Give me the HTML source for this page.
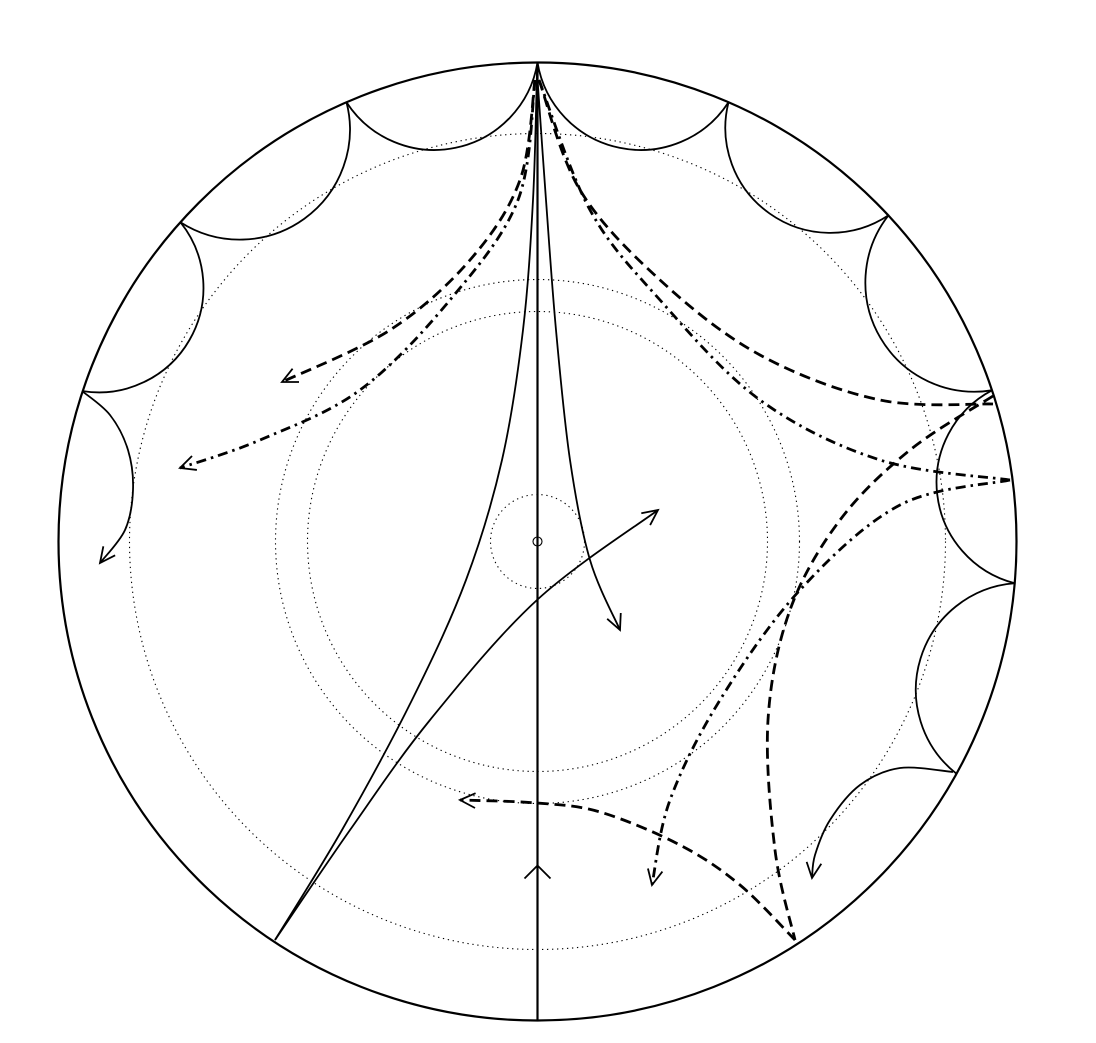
<!DOCTYPE html>
<html><head><meta charset="utf-8"><style>
html,body{margin:0;padding:0;background:#fff;}
svg{display:block;}
</style></head><body>
<svg id="fig" width="1096" height="1043" viewBox="0 0 1096 1043" xmlns="http://www.w3.org/2000/svg">
<g id="circles"></g>
<g id="scallops"></g>
<g id="curves"></g>
</svg>
<script>
const CX = 537.5, CY = 541.5, R = 479;
const dottedRadii = [47, 230, 262, 408];
const scallopAngles = [[-90,-113.5],[-113.5,-138.2],[-138.2,-161.7],[-90,-66.5],[-66.5,-42.9],[-42.9,-18.4],[-18.4,5.0],[5.0,29.0]];
const curveNames = ['solid-left-geodesic','solid-right-arrow','solid-cross-arrow','dashed-top-left','dashdot-top-left','dashed-top-right','dashdot-top-right','dashed-right-down','dashdot-right-down','dashed-bottom-left','left-open-arc','right-open-arc'];
const curveStyles = ['solid','solid','solid','dash','dashdot','dash','dashdot','dash','dashdot','dash','solid','solid'];
const curveArrows = [false,true,true,true,true,false,false,false,true,true,true,true];
const curvePoints = [
 [[537,72],[533,200],[523,330],[502,460],[466,580],[412,700],[342,830],[275,940]],
 [[537,72],[546,200],[556,330],[570,460],[590,560],[620,630]],
 [[275,940],[350,830],[430,720],[537,600],[658,510]],
 [[535,80],[520,180],[470,260],[390,330],[282,382]],
 [[535,80],[518,200],[450,300],[360,390],[260,440],[180,468]],
 [[539,80],[580,190],[660,280],[760,355],[880,400],[993,404]],
 [[539,80],[590,210],[660,300],[760,400],[880,460],[1010,480]],
 [[993,396],[910,450],[840,520],[790,610],[768,720],[775,850],[795,940]],
 [[1010,480],[900,505],[800,590],[720,700],[670,800],[652,885]],
 [[795,940],[740,885],[680,845],[600,812],[537,803],[460,800]],
 [[82,391],[110,415],[128,450],[133,490],[125,530],[100,563]],
 [[953,772],[900,768],[860,785],[830,820],[815,855],[812,878]]
];
const NS='http://www.w3.org/2000/svg';
function mk(tag, attrs, parent){const e=document.createElementNS(NS,tag);for(const k in attrs)e.setAttribute(k,attrs[k]);parent.appendChild(e);return e;}
const gC=document.getElementById('circles'), gS=document.getElementById('scallops'), gK=document.getElementById('curves');
const outer=mk('circle',{cx:CX,cy:CY,r:R,fill:'none',stroke:'#000','stroke-width':2.2},gC);


dottedRadii.forEach((r,i)=>{const c=mk('circle',{cx:CX,cy:CY,r:r,fill:'none',stroke:'#000','stroke-width':1.1,'stroke-dasharray':'1.3,3.7'},gC);

});
const cen=mk('circle',{cx:CX,cy:CY,r:4.5,fill:'none',stroke:'#000','stroke-width':1.1},gC);


const vl=mk('line',{x1:CX,y1:CY-R,x2:CX,y2:CY+R,stroke:'#000','stroke-width':2.2},gC);


const chev=mk('path',{d:`M${CX-13},${CY+337} L${CX},${CY+324} L${CX+13},${CY+337}`,fill:'none',stroke:'#000','stroke-width':1.8},gC);


scallopAngles.forEach((a,i)=>{
 const t1=a[0]*Math.PI/180,t2=a[1]*Math.PI/180;
 const p1=[CX+R*Math.cos(t1),CY+R*Math.sin(t1)],p2=[CX+R*Math.cos(t2),CY+R*Math.sin(t2)];
 const d=Math.abs(t2-t1)/2, rr=R*Math.tan(d)*1.05;
 const sweep = t2>t1 ? 0 : 1;
 const p=mk('path',{d:`M${p1[0]},${p1[1]} A${rr},${rr} 0 0 ${sweep} ${p2[0]},${p2[1]}`,fill:'none',stroke:'#000','stroke-width':1.8},gS);
 
 
});
function crPath(pts){let d=`M${pts[0][0]},${pts[0][1]}`;for(let i=0;i<pts.length-1;i++){const p0=pts[Math.max(0,i-1)],p1=pts[i],p2=pts[i+1],p3=pts[Math.min(pts.length-1,i+2)];
 const c1=[p1[0]+(p2[0]-p0[0])/6,p1[1]+(p2[1]-p0[1])/6],c2=[p2[0]-(p3[0]-p1[0])/6,p2[1]-(p3[1]-p1[1])/6];
 d+=` C${c1[0]},${c1[1]} ${c2[0]},${c2[1]} ${p2[0]},${p2[1]}`;}return d;}
const dashMap={solid:null,dash:'11,6',dashdot:'10,5,2.5,5'};
curvePoints.forEach((pts,i)=>{
 const st=curveStyles[i];
 const attrs={d:crPath(pts),fill:'none',stroke:'#000','stroke-width':st==='solid'?1.8:2.8};
 if(dashMap[st])attrs['stroke-dasharray']=dashMap[st];
 const p=mk('path',attrs,gK);
 
 
 if(curveArrows[i]){
  const e=pts[pts.length-1],b=pts[pts.length-2];
  const ang=Math.atan2(e[1]-b[1],e[0]-b[0]),L=17,s=0.45;
  const a1=[e[0]-L*Math.cos(ang-s),e[1]-L*Math.sin(ang-s)],a2=[e[0]-L*Math.cos(ang+s),e[1]-L*Math.sin(ang+s)];
  const h=mk('path',{d:`M${a1[0]},${a1[1]} L${e[0]},${e[1]} L${a2[0]},${a2[1]}`,fill:'none',stroke:'#000','stroke-width':1.8},gK);
  
  
 }
});
</script>
</body></html>
